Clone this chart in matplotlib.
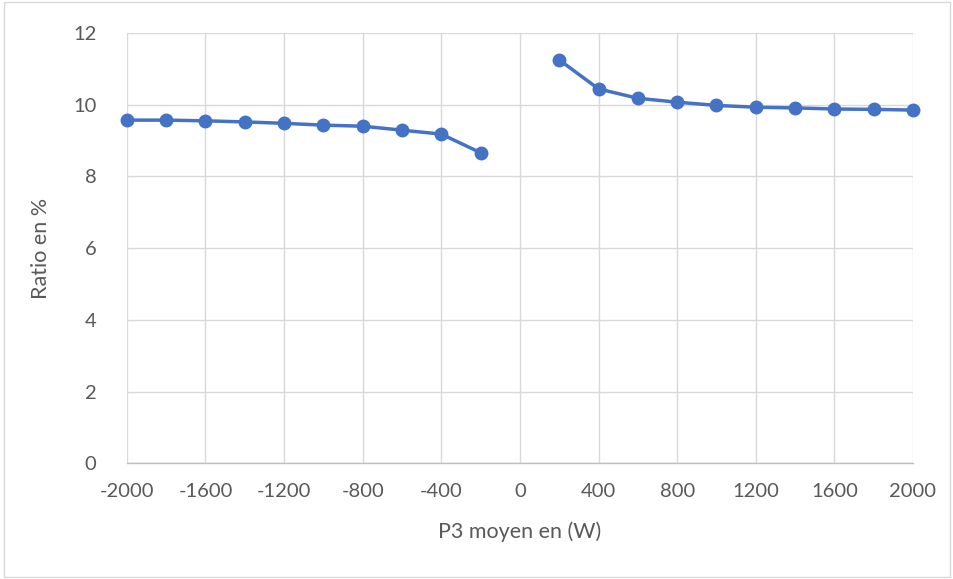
import matplotlib
matplotlib.use("Agg")
import matplotlib.pyplot as plt
from matplotlib.patches import Rectangle

x_neg = [-2000, -1800, -1600, -1400, -1200, -1000, -800, -600, -400, -200]
y_neg = [9.57, 9.57, 9.55, 9.52, 9.48, 9.43, 9.40, 9.29, 9.18, 8.66]
x_pos = [200, 400, 600, 800, 1000, 1200, 1400, 1600, 1800, 2000]
y_pos = [11.25, 10.44, 10.18, 10.07, 9.98, 9.93, 9.91, 9.88, 9.87, 9.85]
x_ticks = [-2000, -1600, -1200, -800, -400, 0, 400, 800, 1200, 1600, 2000]
y_ticks = [0, 2, 4, 6, 8, 10, 12]

plt.rcParams['font.family'] = ['Lato', 'DejaVu Sans']
fig = plt.figure(figsize=(9.54, 5.79), dpi=100)
fig.patches.append(Rectangle((0.004, 0.004), 0.992, 0.992, transform=fig.transFigure,
                             fill=False, edgecolor='#d9d9d9', linewidth=1))
ax = fig.add_axes([0.133, 0.2, 0.824, 0.743])
color = '#4472C4'
for xs, ys in [(x_neg, y_neg), (x_pos, y_pos)]:
    ax.plot(xs, ys, color=color, linewidth=2.5, marker='o', markersize=9, zorder=3, clip_on=False)
ax.set_xlim(-2000, 2000)
ax.set_ylim(0, 12)
ax.set_xticks(x_ticks)
ax.set_yticks(y_ticks)
ax.set_xticklabels([str(v) for v in x_ticks])
ax.grid(True, color='#d9d9d9', linewidth=1)
ax.set_axisbelow(True)
for s in ['top', 'right', 'left']:
    ax.spines[s].set_visible(False)
ax.spines['bottom'].set_color('#bfbfbf')
ax.spines['bottom'].set_linewidth(1)
ax.tick_params(axis='both', length=0, labelsize=14.5, labelcolor='#595959')
ax.tick_params(axis='x', pad=14)
ax.tick_params(axis='y', pad=22)
ax.set_xlabel('P3 moyen en (W)', fontsize=15.5, color='#595959', labelpad=16)
ax.set_ylabel('Ratio en %', fontsize=15.5, color='#595959', labelpad=16)
fig.savefig('out.png', dpi=100)
